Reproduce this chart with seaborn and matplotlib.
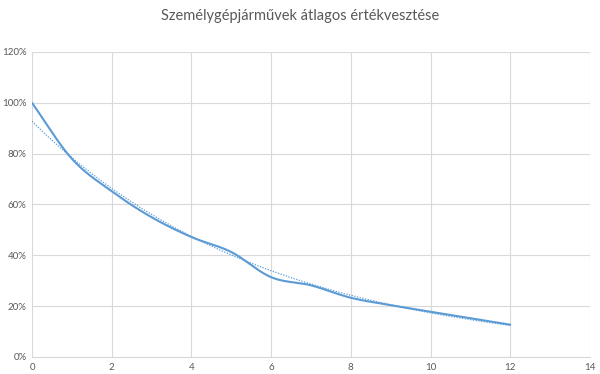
import numpy as np
import pandas as pd
import matplotlib
matplotlib.use("Agg")
import matplotlib.pyplot as plt
import seaborn as sns
from matplotlib.ticker import FuncFormatter, MultipleLocator

title = "Személygépjárművek átlagos értékvesztése"
years = [0, 1, 2, 3, 4, 5, 6, 7, 8, 9, 10, 11, 12]
values = [1.00, 0.78, 0.652, 0.55, 0.472, 0.413, 0.314, 0.282, 0.233, 0.204, 0.178, 0.153, 0.127]

sns.set_theme(style="white")
plt.rcParams['font.family'] = ['Lato', 'DejaVu Sans']

def catmull_rom(x, y, n=30):
    x = np.asarray(x, float); y = np.asarray(y, float)
    px = np.concatenate([[2*x[0]-x[1]], x, [2*x[-1]-x[-2]]])
    py = np.concatenate([[2*y[0]-y[1]], y, [2*y[-1]-y[-2]]])
    xs, ys = [], []
    t = np.linspace(0, 1, n, endpoint=False)
    for i in range(1, len(px)-2):
        p0, p1, p2, p3 = [np.array([px[j], py[j]]) for j in (i-1, i, i+1, i+2)]
        c1 = p1 + (p2 - p0) / 6
        c2 = p2 - (p3 - p1) / 6
        pts = ((1-t)**3)[:, None]*p1 + (3*(1-t)**2*t)[:, None]*c1 + (3*(1-t)*t**2)[:, None]*c2 + (t**3)[:, None]*p2
        xs.extend(pts[:, 0]); ys.extend(pts[:, 1])
    xs.append(x[-1]); ys.append(y[-1])
    return np.array(xs), np.array(ys)

sx, sy = catmull_rom(years, values)
smooth = pd.DataFrame({"x": sx, "y": sy})

# exponential trendline fitted to the data (like Excel)
b, ln_a = np.polyfit(years, np.log(values), 1)
tx = np.linspace(years[0], years[-1], 200)
trend = pd.DataFrame({"x": tx, "y": np.exp(ln_a) * np.exp(b * tx)})

fig = plt.figure(figsize=(6, 3.74), dpi=100)
ax = fig.add_axes([32/600, 1-357/374, 558/600, 305/374])

color = "#5B9BD5"
sns.lineplot(data=smooth, x="x", y="y", ax=ax, color=color, linewidth=1.5, sort=False, estimator=None)
sns.lineplot(data=trend, x="x", y="y", ax=ax, color=color, linewidth=0.9, linestyle=(0, (1, 1.2)), estimator=None)

ax.set_xlim(0, 14)
ax.set_ylim(0, 1.2)
ax.xaxis.set_major_locator(MultipleLocator(2))
ax.yaxis.set_major_locator(MultipleLocator(0.2))
ax.yaxis.set_major_formatter(FuncFormatter(lambda v, p: f"{v*100:.0f}%"))
ax.grid(True, color="#D9D9D9", linewidth=0.8)
ax.set_axisbelow(True)
for s in ["top", "right", "left"]:
    ax.spines[s].set_visible(False)
ax.spines["bottom"].set_color("#D9D9D9")
ax.spines["bottom"].set_linewidth(0.8)
ax.tick_params(axis="both", length=0, labelsize=7, colors="#595959", pad=4)
ax.set_xlabel("")
ax.set_ylabel("")
fig.text(0.5, 1-16/374, title, ha="center", va="center", fontsize=10.5, color="#595959")

fig.savefig("out.png", dpi=100)
